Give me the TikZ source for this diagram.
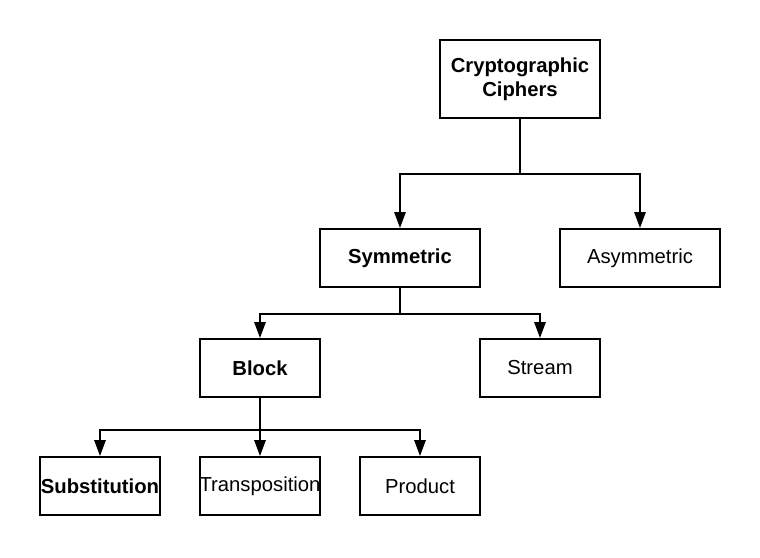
\documentclass[tikz,border=0pt]{standalone}
\usepackage{fontspec}
\setmainfont{Liberation Sans}
\usetikzlibrary{arrows.meta}
\begin{document}
\begin{tikzpicture}[x=0.75pt,y=-0.75pt,
  box/.style={draw,line width=1.5pt,rectangle,inner sep=0pt,minimum width=90pt,minimum height=43.5pt,align=center,font=\fontsize{15.2pt}{18pt}\selectfont},
  bbox/.style={box,font=\fontsize{15.2pt}{18pt}\selectfont\bfseries},
  wide/.style={minimum width=120pt},
  tall/.style={minimum height=58.5pt},
  link/.style={line width=1.5pt},
  arr/.style={link,-{Triangle[length=12pt,width=8.5pt]}}]
\useasboundingbox (0,0) rectangle (760,557);
\node[bbox,wide,tall] (crypto) at (520,79) {Cryptographic\\Ciphers};
\node[bbox,wide] (sym) at (400,258) {Symmetric};
\node[box,wide] (asym) at (640,258) {Asymmetric};
\node[bbox] (block) at (260,368) {Block};
\node[box] (stream) at (540,368) {Stream};
\node[bbox] (subst) at (100,486) {Substitution};
\node[box] (trans) at (260,486) {Transposition};
\node[box] (prod) at (420,486) {Product};
\coordinate (j1) at (520,174);
\coordinate (j2) at (400,314);
\coordinate (j3) at (260,430);
\draw[link] (crypto.south) -- (j1);
\draw[arr] (j1) -| (sym.north);
\draw[arr] (j1) -| (asym.north);
\draw[link] (sym.south) -- (j2);
\draw[arr] (j2) -| (block.north);
\draw[arr] (j2) -| (stream.north);
\draw[link] (block.south) -- (j3);
\draw[arr] (j3) -| (subst.north);
\draw[arr] (j3) -- (trans.north);
\draw[arr] (j3) -| (prod.north);
\end{tikzpicture}
\end{document}
